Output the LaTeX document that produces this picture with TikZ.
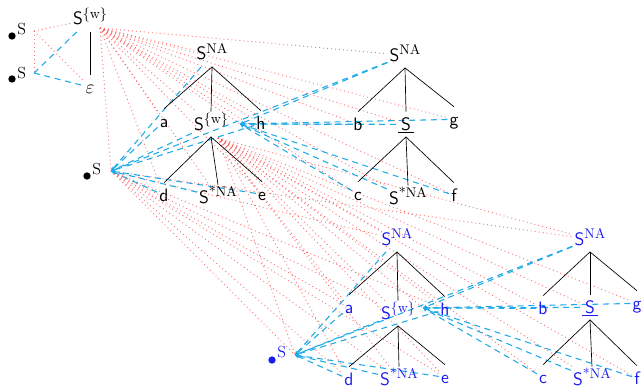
\documentclass[tikz,border=0pt]{standalone}
\usetikzlibrary{arrows.meta}
\definecolor{cyl}{RGB}{30,170,230}
\definecolor{rdl}{RGB}{250,90,90}
\definecolor{bl}{RGB}{25,25,240}
\pgfdeclarelayer{bg}
\pgfsetlayers{bg,main}
\newcommand\ssup[1]{\raisebox{0.85ex}{\fontsize{10.5}{12}\selectfont\rmfamily #1}}
\begin{document}
\begin{tikzpicture}[x=0.75pt,y=-0.75pt,
  lab/.style={font=\fontsize{13.5}{16}\selectfont\sffamily, anchor=base, inner sep=1.5pt, text height=12pt, text depth=3.5pt},
  blab/.style={lab, text=bl},
  ptl/.style={font=\fontsize{12}{14}\selectfont\rmfamily, inner sep=0pt, anchor=base west},
  bul/.style={circle, fill, inner sep=0pt, minimum size=5.5pt},
  treeline/.style={draw=black, line width=0.5pt},
  rdot/.style={draw=rdl, line width=0.7pt, dash pattern=on 0.7pt off 2.3pt, opacity=0.85},
  cdash/.style={draw=cyl, line width=0.8pt, dash pattern=on 4.5pt off 3.5pt},
  tocp/.style={cdash, -{Stealth[length=3pt,width=3pt]}},
]
\useasboundingbox (0,0) rectangle (643,389);

% ---------- top-left ----------
\node[bul] (b0a) at (12,36) {};
\node[ptl] (s0a) at (17,35) {S};
\node[bul] (b0b) at (12,79) {};
\node[ptl] (s0b) at (17,78) {S};
\coordinate (P0a) at (34,31);
\coordinate (P0b) at (34,73);
\node[lab] (Sw0) at (90,25) {S\ssup{\{w\}}};
\node[lab] (eps0) at (90,93) {\fontsize{15}{16}\selectfont$\varepsilon$};
\coordinate (f0) at (100,28);

% ---------- black tree 1 ----------
\node[lab] (SNA1) at (212,60) {S\ssup{NA}};
\node[lab] (a1) at (164,127) {a};
\node[lab] (Sw1) at (211,130) {S\ssup{\{w\}}};
\node[lab] (h1) at (261,129) {h};
\node[lab] (d1) at (164,201) {d};
\node[lab] (Ss1) at (218,203) {S\ssup{*NA}};
\node[lab] (e1) at (262,200) {e};
\coordinate (f1) at (218,138);

% ---------- black tree 2 ----------
\node[lab] (SNA2) at (405,61) {S\ssup{NA}};
\node[lab] (b2) at (358,130) {b};
\node[lab] (S2) at (406,130) {\underline{\,S\,}};
\node[lab] (g2) at (454,125) {g};
\node[lab] (c2) at (358,200) {c};
\node[lab] (Ss2) at (408,204) {S\ssup{*NA}};
\node[lab] (f2) at (454,201) {f};

% ---------- middle pointer ----------
\node[bul] (b1) at (87,176) {};
\node[ptl] (s1) at (92,174) {S};
\coordinate (P1) at (111,171);
\coordinate (P2) at (240,124);

% ---------- blue tree 1 ----------
\node[blab] (SNA1b) at (397,245) {S\ssup{NA}};
\node[blab] (a1b) at (349,313) {a};
\node[blab] (Sw1b) at (398,319) {S\ssup{\{w\}}};
\node[blab] (h1b) at (445,315) {h};
\node[blab] (d1b) at (349,385) {d};
\node[blab] (Ss1b) at (399,385) {S\ssup{*NA}};
\node[blab] (e1b) at (445,383) {e};

% ---------- blue tree 2 ----------
\node[blab] (SNA2b) at (590,245) {S\ssup{NA}};
\node[blab] (b2b) at (543,314) {b};
\node[blab] (S2b) at (590,313) {\underline{\,S\,}};
\node[blab] (g2b) at (637,309) {g};
\node[blab] (c2b) at (543,383) {c};
\node[blab] (Ss2b) at (592,385) {S\ssup{*NA}};
\node[blab] (f2b) at (637,384) {f};

% ---------- blue pointer ----------
\node[bul, fill=bl] (b1b) at (272,360) {};
\node[ptl, text=bl] (s1b) at (277,357) {S};
\coordinate (P1b) at (295,355);
\coordinate (P2b) at (423,308);

% ---------- tree edges ----------
\draw[treeline] (Sw0) -- (eps0);
\foreach \p/\c in {SNA1/a1,SNA1/Sw1,SNA1/h1,Sw1/d1,Sw1/Ss1,Sw1/e1,
                   SNA2/b2,SNA2/S2,SNA2/g2,S2/c2,S2/Ss2,S2/f2,
                   SNA1b/a1b,SNA1b/Sw1b,SNA1b/h1b,Sw1b/d1b,Sw1b/Ss1b,Sw1b/e1b,
                   SNA2b/b2b,SNA2b/S2b,SNA2b/g2b,S2b/c2b,S2b/Ss2b,S2b/f2b}
  \draw[treeline] (\p.south) -- (\c.north);

\begin{pgfonlayer}{bg}
% red dotted
\draw[rdot] (P0a) -- (Sw0);
\draw[rdot] (P0a) -- (P0b);
\draw[rdot] (P0a) -- (eps0);
\foreach \t in {SNA1,a1,Sw1,h1,d1,Ss1,e1,SNA2,b2,S2,g2,c2,Ss2,f2,P1,P2}
  \draw[rdot] (f0) -- (\t);
\foreach \t in {SNA1b,a1b,Sw1b,h1b,d1b,Ss1b,e1b,SNA2b,b2b,S2b,g2b,c2b,Ss2b,f2b,P1b,P2b}
  \draw[rdot] (f1) -- (\t);
\foreach \t in {SNA1b,a1b,Sw1b,h1b,d1b,Ss1b,e1b,SNA2b,P1b}
  \draw[rdot] (P1) -- (\t);
% cyan dashed
\draw[cdash] (P0b) -- (Sw0);
\draw[cdash] (P0b) -- (eps0);
\foreach \t in {SNA1,a1,Sw1,h1,d1,Ss1,e1,SNA2}
  \draw[tocp] (\t) -- (P1);
\foreach \t in {SNA2,b2,S2,g2,c2,Ss2,f2}
  \draw[tocp] (\t) -- (P2);
\foreach \t in {SNA1b,a1b,Sw1b,h1b,d1b,Ss1b,e1b,SNA2b}
  \draw[tocp] (\t) -- (P1b);
\foreach \t in {SNA2b,b2b,S2b,g2b,c2b,Ss2b,f2b}
  \draw[tocp] (\t) -- (P2b);
\end{pgfonlayer}
\end{tikzpicture}
\end{document}
